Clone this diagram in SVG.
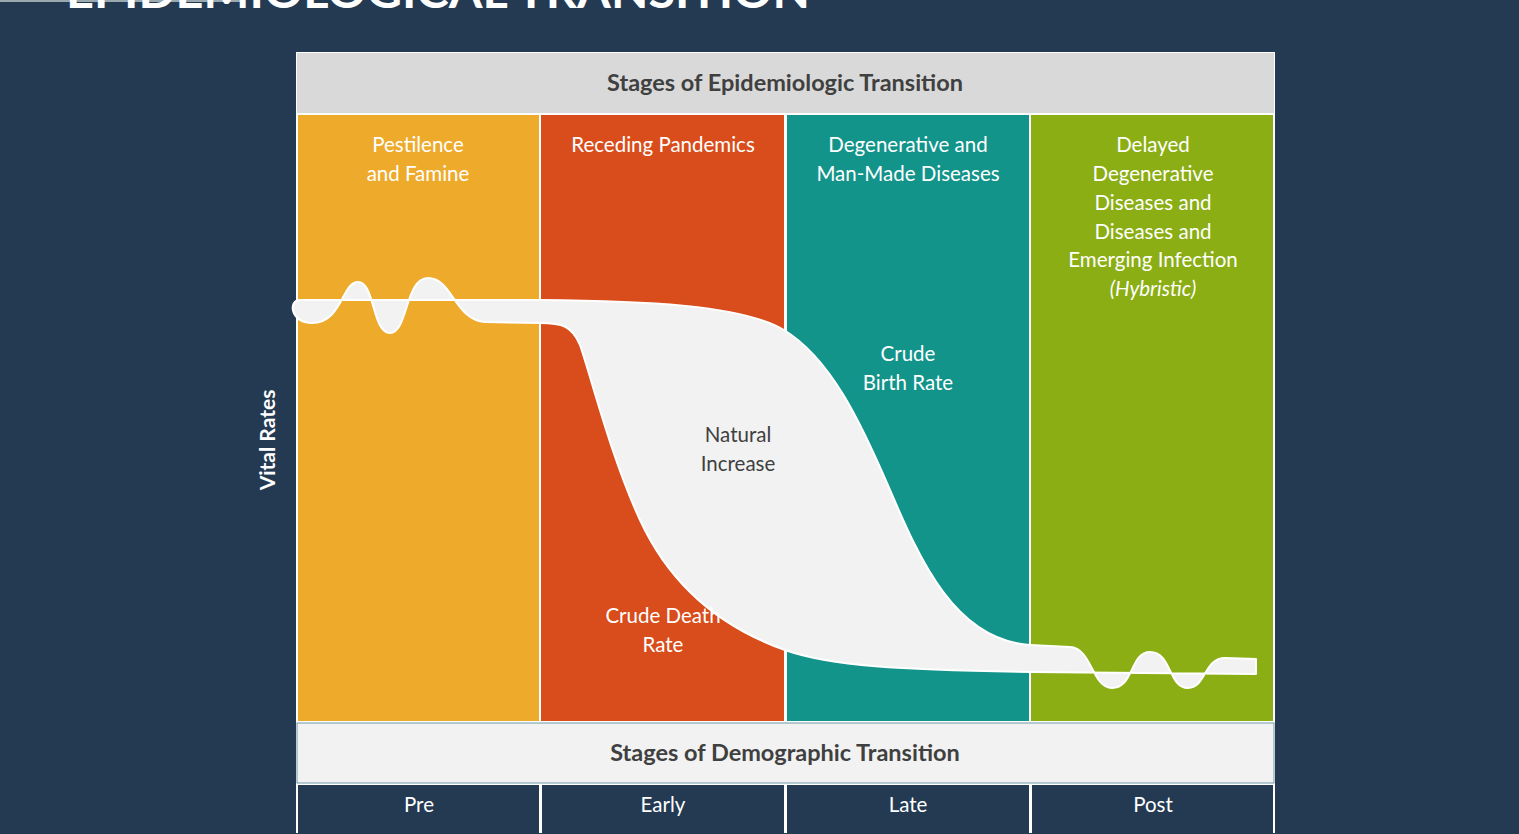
<svg xmlns="http://www.w3.org/2000/svg" width="1519" height="834" viewBox="0 0 1519 834">
<style>
.t{font-family:Lato,"Open Sans","Liberation Sans",sans-serif;text-anchor:middle}
.w{fill:#ffffff;font-size:20.5px}
.hd{fill:#404040;font-size:23.5px;font-weight:bold}
.ft{fill:#ffffff;font-size:20.5px}
</style>
<rect x="0" y="0" width="1519" height="834" fill="#243a53"/>
<rect x="0" y="0" width="240" height="2" fill="#9aa8b0"/>
<text x="66" y="8" font-family="Lato,'Liberation Sans',sans-serif" font-weight="bold" font-size="46" fill="#ffffff" textLength="744" lengthAdjust="spacingAndGlyphs">EPIDEMIOLOGICAL TRANSITION</text>

<g id="panel-frame">
<rect x="296" y="52" width="979" height="781" fill="#ffffff"/>
</g>
<g id="header-epi">
<rect x="297" y="53" width="977" height="60" fill="#d9d9d9"/>
<text class="t hd" x="785" y="91">Stages of Epidemiologic Transition</text>
</g>
<g id="col-pestilence">
<rect x="298" y="115" width="241" height="606" fill="#eeaa2b"/>
<text class="t w" x="418" y="152">Pestilence</text>
<text class="t w" x="418" y="181">and Famine</text>
</g>
<g id="col-receding">
<rect x="541" y="115" width="243" height="606" fill="#d94c1b"/>
<text class="t w" x="663" y="152">Receding Pandemics</text>
</g>
<g id="col-degenerative">
<rect x="787" y="115" width="242" height="606" fill="#12948a"/>
<text class="t w" x="908" y="152">Degenerative and</text>
<text class="t w" x="908" y="181">Man-Made Diseases</text>
</g>
<g id="col-delayed">
<rect x="1031" y="115" width="242" height="606" fill="#8aae14"/>
<text class="t w" x="1153" y="152">Delayed</text>
<text class="t w" x="1153" y="181">Degenerative</text>
<text class="t w" x="1153" y="210">Diseases and</text>
<text class="t w" x="1153" y="239">Diseases and</text>
<text class="t w" x="1153" y="267">Emerging Infection</text>
<text class="t w" x="1153" y="296" font-style="italic">(Hybristic)</text>
</g>

<g id="rates-band">
<path d="M 300 300 L 540 300 C 640 301 740 304 784 330 C 830 358 860 420 890 490 C 920 560 955 640 1030 645 L 1070 647 C 1092 648 1092 688 1112 688 C 1134 688 1130 652 1150 652 C 1172 652 1168 688 1188 688 C 1206 688 1204 658 1225 658 L 1256 659 L 1256 674 L 1030 672 C 900 670 830 666 785 650 C 720 627 670 585 640 520 C 612 460 592 380 580 345 C 572 326 562 323 540 323 L 485 322 C 455 320 452 278 428 278 C 405 278 408 333 390 333 C 372 333 375 282 358 282 C 342 282 342 323 312 323 C 290 323 288 300 300 300 Z" fill="#f2f2f2" stroke="#ffffff" stroke-width="2" stroke-linejoin="round"/>
</g>

<g id="labels">
<text class="t w" x="908" y="361">Crude</text>
<text class="t w" x="908" y="390">Birth Rate</text>
<text class="t" x="738" y="442" fill="#404040" font-size="20.5">Natural</text>
<text class="t" x="738" y="471" fill="#404040" font-size="20.5">Increase</text>
<text class="t w" x="663" y="623">Crude Death</text>
<text class="t w" x="663" y="652">Rate</text>
<text class="t" x="0" y="0" fill="#ffffff" font-size="21" font-weight="bold" transform="translate(275 440) rotate(-90)">Vital Rates</text>
</g>

<g id="header-demo">
<rect x="297" y="723" width="977" height="60" fill="#f2f2f2" stroke="#6f9aa6" stroke-width="1"/>
<text class="t hd" x="785" y="761">Stages of Demographic Transition</text>
</g>
<g id="stage-pre">
<rect x="298" y="785" width="241" height="48" fill="#243a53"/>
<text class="t ft" x="419" y="812">Pre</text>
</g>
<g id="stage-early">
<rect x="542" y="785" width="242" height="48" fill="#243a53"/>
<text class="t ft" x="663" y="812">Early</text>
</g>
<g id="stage-late">
<rect x="787" y="785" width="242" height="48" fill="#243a53"/>
<text class="t ft" x="908" y="812">Late</text>
</g>
<g id="stage-post">
<rect x="1032" y="785" width="241" height="48" fill="#243a53"/>
<text class="t ft" x="1153" y="812">Post</text>
</g>
</svg>
